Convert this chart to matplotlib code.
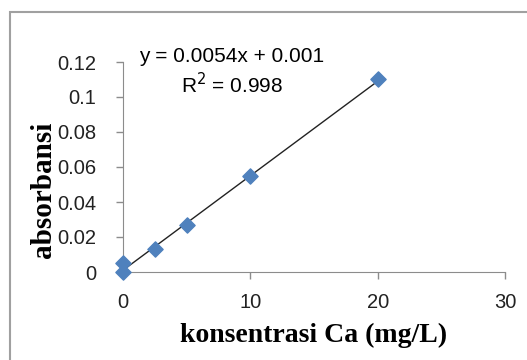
import matplotlib.pyplot as plt
from matplotlib.patches import Rectangle

# calibration data
konsentrasi = [0, 0, 2.5, 5, 10, 20]
absorbansi = [0, 0.005, 0.013, 0.027, 0.055, 0.110]
slope = 0.0054
intercept = 0.001
x_ticks = [0, 10, 20, 30]
y_ticks = [0, 0.02, 0.04, 0.06, 0.08, 0.1, 0.12]
y_labels = ['0', '0.02', '0.04', '0.06', '0.08', '0.1', '0.12']

fig = plt.figure(figsize=(5.27, 3.6), dpi=100)
fig.patches.append(Rectangle((10 / 527, -0.1), 1.1, 1 - 12 / 360 + 0.1,
                             transform=fig.transFigure, fill=False,
                             edgecolor='#a0a0a0', linewidth=1.5))

ax = fig.add_axes([123 / 527, 1 - 272 / 360, (505 - 123) / 527, (272 - 62) / 360])

# trendline
fit_x = [min(konsentrasi), max(konsentrasi)]
fit_y = [slope * v + intercept for v in fit_x]
ax.plot(fit_x, fit_y, color='#222222', linewidth=1, zorder=2)
ax.scatter(konsentrasi, absorbansi, marker='D', s=60, color='#4f81bd',
           edgecolors='#4f81bd', zorder=3, clip_on=False)

ax.set_xlim(0, 30)
ax.set_ylim(0, 0.12)
ax.set_xticks(x_ticks)
ax.set_yticks(y_ticks)
ax.set_yticklabels(y_labels)
for s in ['top', 'right']:
    ax.spines[s].set_visible(False)
for s in ['left', 'bottom']:
    ax.spines[s].set_color('#8c8c8c')
ax.tick_params(colors='#8c8c8c', labelcolor='#222222', length=5, width=1,
               labelsize=14.5)
ax.tick_params(axis='y', pad=14)
ax.tick_params(axis='x', pad=10)
for lbl in ax.get_xticklabels() + ax.get_yticklabels():
    lbl.set_family('Liberation Sans')

ax.set_xlabel('konsentrasi Ca (mg/L)', family='Liberation Serif',
              fontweight='bold', fontsize=20, labelpad=8)
ax.set_ylabel('absorbansi', family='Liberation Serif', fontweight='bold',
              fontsize=21, labelpad=0)
ax.yaxis.set_label_coords(-(123 - 57) / 382, (272 - 190) / 210)

fig.text(232 / 527, 1 - 57 / 360, 'y = 0.0054x + 0.001', ha='center',
         va='center', fontsize=15, family='Liberation Sans')
fig.text(232 / 527, 1 - 85 / 360, 'R$^2$ = 0.998', ha='center',
         va='center', fontsize=15, family='Liberation Sans')

fig.savefig('out.png', dpi=100)
